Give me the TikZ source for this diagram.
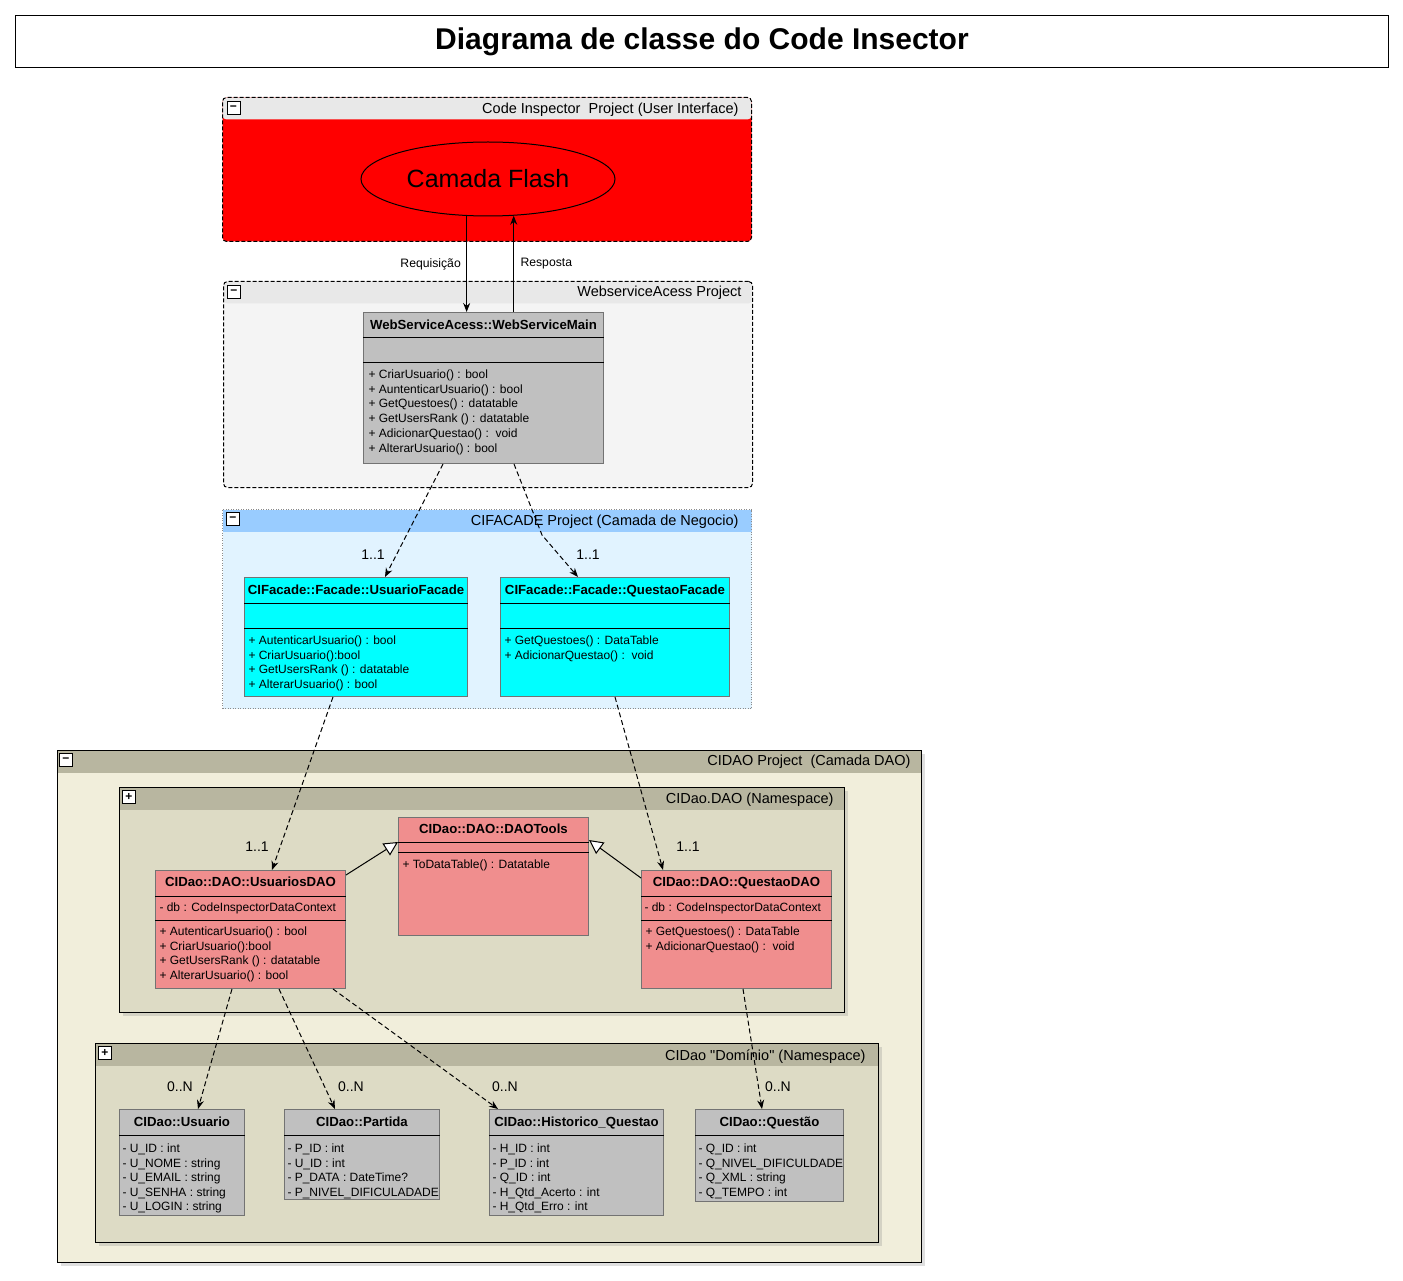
\documentclass[tikz,border=0pt]{standalone}
\usepackage{fontspec}
\setmainfont{Liberation Sans}
\newfontfamily\straightquotes{Liberation Sans}
\usetikzlibrary{arrows.meta}
\usetikzlibrary{calc, positioning, shapes.geometric, shadows}
\definecolor{uired}{RGB}{255,0,0}
\definecolor{pkggray}{RGB}{232,232,232}
\definecolor{pkgbody}{RGB}{244,244,244}
\definecolor{facadehdr}{RGB}{153,204,255}
\definecolor{facadebody}{RGB}{225,243,255}
\definecolor{daohdr}{RGB}{184,182,160}
\definecolor{daobody}{RGB}{241,238,219}
\definecolor{nsbody}{RGB}{221,219,197}
\definecolor{classgray}{RGB}{192,192,192}
\definecolor{classcyan}{RGB}{0,255,255}
\definecolor{classrose}{RGB}{240,142,142}

\tikzset{
	pkg/.style 2 args={draw, anchor=north west, inner sep=0pt, fill=#2,
		path picture={\fill[#1] (path picture bounding box.north west) rectangle ($(path picture bounding box.north east)+(0,22)$);}},
	pkgtitle/.style={anchor=base east, font=\fontsize{14.5}{17}\selectfont, inner sep=0pt},
	toggle/.style={draw, fill=white, minimum size=13pt, inner sep=0pt, font=\fontsize{12}{12}\selectfont\bfseries},
	umlclass/.style={draw=black!55, anchor=north west, inner sep=0pt},
	cname/.style={anchor=base, font=\fontsize{13.2}{15}\selectfont\bfseries, inner sep=0pt},
	member/.style={anchor=base west, font=\fontsize{12}{14}\selectfont, inner sep=0pt},
	mult/.style={font=\fontsize{14}{16}\selectfont, inner sep=0pt},
	dep/.style={draw, dash pattern=on 5pt off 3pt, -{Stealth[length=9pt,width=7pt]}},
	gen/.style={draw, -{Triangle[open,length=14pt,width=14pt,fill=white]}},
}

\begin{document}
\begin{tikzpicture}[x=1pt, y=-1pt, line width=1pt]

	\fill[white] (0,0) rectangle (1403,1281);
	\useasboundingbox (0,0) rectangle (1403,1281);

	% title
	\node[draw, anchor=north west, minimum width=1373pt, minimum height=52pt, font=\fontsize{30}{34}\selectfont\bfseries] (title) at (15,15) {Diagrama de classe do Code Insector};

	% packages
	\node[pkg={pkggray}{uired}, dash pattern=on 4pt off 2pt, rounded corners=4pt, minimum width=529pt, minimum height=144pt] (ui) at (222,97) {};
	\node[pkgtitle] (ui-t) at ($(ui.north east)+(-13,17)$) {Code Inspector\ \ Project (User Interface)};
	\node[toggle] (ui-b) at ($(ui.north west)+(11.5,11.5)$) {−};

	\node[pkg={pkggray}{pkgbody}, dash pattern=on 4pt off 2pt, rounded corners=4pt, minimum width=529pt, minimum height=206pt] (ws) at (223,281) {};
	\node[pkgtitle] (ws-t) at ($(ws.north east)+(-11,16)$) {WebserviceAcess Project};
	\node[toggle] (ws-b) at ($(ws.north west)+(11,11)$) {−};

	\node[pkg={facadehdr}{facadebody}, draw=black!45, dash pattern=on 1pt off 1.5pt, minimum width=529pt, minimum height=199pt] (fac) at (222,509) {};
	\node[pkgtitle] (fac-t) at ($(fac.north east)+(-13,16)$) {CIFACADE Project (Camada de Negocio)};
	\node[toggle] (fac-b) at ($(fac.north west)+(11,10)$) {−};

	\node[pkg={daohdr}{daobody}, drop shadow={shadow xshift=3pt, shadow yshift=-3pt, opacity=0.25}, minimum width=864pt, minimum height=512pt] (dao) at (57,750) {};
	\node[pkgtitle] (dao-t) at ($(dao.north east)+(-11,15)$) {CIDAO Project\ \ (Camada DAO)};
	\node[toggle] (dao-b) at ($(dao.north west)+(9,10)$) {−};

	\node[pkg={daohdr}{nsbody}, drop shadow={shadow xshift=3pt, shadow yshift=-3pt, opacity=0.25}, minimum width=725pt, minimum height=225pt] (ns) at (119,787) {};
	\node[pkgtitle] (ns-t) at ($(ns.north east)+(-11,16)$) {CIDao.DAO (Namespace)};
	\node[toggle] (ns-b) at ($(ns.north west)+(10,10)$) {+};

	\node[pkg={daohdr}{nsbody}, drop shadow={shadow xshift=3pt, shadow yshift=-3pt, opacity=0.25}, minimum width=783pt, minimum height=199pt] (dom) at (95,1043) {};
	\node[pkgtitle] (dom-t) at ($(dom.north east)+(-13,17)$) {\straightquotes CIDao "Domínio" (Namespace)};
	\node[toggle] (dom-b) at ($(dom.north west)+(10,10)$) {+};

	% user interface
	\node[ellipse, draw, minimum width=254pt, minimum height=74pt, inner sep=0pt, font=\fontsize{25}{29}\selectfont] (flash) at (488,179) {Camada Flash};

	% WebServiceMain
	\node[umlclass, fill=classgray, minimum width=240pt, minimum height=151pt] (wsm) at (363,312) {};
	\node[cname] (wsm-n) at ($(wsm.north)+(0,17.5)$) {WebServiceAcess::WebServiceMain};
	\draw ($(wsm.north west)+(0,26)$) -- ($(wsm.north east)+(0,26)$);
	\draw ($(wsm.north west)+(0,50)$) -- ($(wsm.north east)+(0,50)$);
	\foreach \m [count=\i from 0] in {+ CriarUsuario() : bool, + AuntenticarUsuario() : bool, + GetQuestoes() : datatable, + GetUsersRank () : datatable, + AdicionarQuestao() :\ \ void, + AlterarUsuario() : bool}
		\node[member] (wsm-m\i) at ($(wsm.north west)+(5,66.5+14.7*\i)$) {\m};

	% facades
	\node[umlclass, fill=classcyan, minimum width=223pt, minimum height=119pt] (uf) at (244,577) {};
	\node[cname] (uf-n) at ($(uf.north)+(0,17.5)$) {CIFacade::Facade::UsuarioFacade};
	\draw ($(uf.north west)+(0,26)$) -- ($(uf.north east)+(0,26)$);
	\draw ($(uf.north west)+(0,51)$) -- ($(uf.north east)+(0,51)$);
	\foreach \m [count=\i from 0] in {+ AutenticarUsuario() : bool, + CriarUsuario():bool, + GetUsersRank () : datatable, + AlterarUsuario() : bool}
		\node[member] (uf-m\i) at ($(uf.north west)+(4,67.5+14.7*\i)$) {\m};

	\node[umlclass, fill=classcyan, minimum width=229pt, minimum height=119pt] (qf) at (500,577) {};
	\node[cname] (qf-n) at ($(qf.north)+(0,17.5)$) {CIFacade::Facade::QuestaoFacade};
	\draw ($(qf.north west)+(0,26)$) -- ($(qf.north east)+(0,26)$);
	\draw ($(qf.north west)+(0,51)$) -- ($(qf.north east)+(0,51)$);
	\foreach \m [count=\i from 0] in {+ GetQuestoes() : DataTable, + AdicionarQuestao() :\ \ void}
		\node[member] (qf-m\i) at ($(qf.north west)+(4,67.5+14.7*\i)$) {\m};

	% DAO classes
	\node[umlclass, fill=classrose, minimum width=190pt, minimum height=118pt] (dt) at (398,817) {};
	\node[cname] (dt-n) at ($(dt.north)+(0,16.5)$) {CIDao::DAO::DAOTools};
	\draw ($(dt.north west)+(0,25)$) -- ($(dt.north east)+(0,25)$);
	\draw ($(dt.north west)+(0,35)$) -- ($(dt.north east)+(0,35)$);
	\node[member] (dt-m0) at ($(dt.north west)+(4,51.5)$) {+ ToDataTable() : Datatable};

	\node[umlclass, fill=classrose, minimum width=190pt, minimum height=118pt] (udao) at (155,870) {};
	\node[cname] (udao-n) at ($(udao.north)+(0,16.5)$) {CIDao::DAO::UsuariosDAO};
	\draw ($(udao.north west)+(0,26)$) -- ($(udao.north east)+(0,26)$);
	\draw ($(udao.north west)+(0,50)$) -- ($(udao.north east)+(0,50)$);
	\node[member] (udao-a0) at ($(udao.north west)+(4,41.5)$) {- db : CodeInspectorDataContext};
	\foreach \m [count=\i from 0] in {+ AutenticarUsuario() : bool, + CriarUsuario():bool, + GetUsersRank () : datatable, + AlterarUsuario() : bool}
		\node[member] (udao-m\i) at ($(udao.north west)+(4,65.5+14.7*\i)$) {\m};

	\node[umlclass, fill=classrose, minimum width=190pt, minimum height=118pt] (qdao) at (641,870) {};
	\node[cname] (qdao-n) at ($(qdao.north)+(0,16.5)$) {CIDao::DAO::QuestaoDAO};
	\draw ($(qdao.north west)+(0,26)$) -- ($(qdao.north east)+(0,26)$);
	\draw ($(qdao.north west)+(0,50)$) -- ($(qdao.north east)+(0,50)$);
	\node[member] (qdao-a0) at ($(qdao.north west)+(3,41.5)$) {- db : CodeInspectorDataContext};
	\foreach \m [count=\i from 0] in {+ GetQuestoes() : DataTable, + AdicionarQuestao() :\ \ void}
		\node[member] (qdao-m\i) at ($(qdao.north west)+(4,65.5+14.7*\i)$) {\m};

	% domain classes
	\node[umlclass, fill=classgray, minimum width=125pt, minimum height=106pt] (usu) at (119,1109) {};
	\node[cname] (usu-n) at ($(usu.north)+(0,17.5)$) {CIDao::Usuario};
	\draw ($(usu.north west)+(0,26)$) -- ($(usu.north east)+(0,26)$);
	\foreach \m [count=\i from 0] in {- U\_ID : int, - U\_NOME : string, - U\_EMAIL : string, - U\_SENHA : string, - U\_LOGIN : string}
		\node[member] (usu-a\i) at ($(usu.north west)+(3,43.5+14.6*\i)$) {\m};

	\node[umlclass, fill=classgray, minimum width=155pt, minimum height=90pt] (par) at (284,1109) {};
	\node[cname] (par-n) at ($(par.north)+(0,17.5)$) {CIDao::Partida};
	\draw ($(par.north west)+(0,26)$) -- ($(par.north east)+(0,26)$);
	\foreach \m [count=\i from 0] in {- P\_ID : int, - U\_ID : int, - P\_DATA : DateTime?, - P\_NIVEL\_DIFICULADADE}
		\node[member] (par-a\i) at ($(par.north west)+(3,43.5+14.6*\i)$) {\m};

	\node[umlclass, fill=classgray, minimum width=174pt, minimum height=106pt] (hist) at (489,1109) {};
	\node[cname] (hist-n) at ($(hist.north)+(0,17.5)$) {CIDao::Historico\_Questao};
	\draw ($(hist.north west)+(0,26)$) -- ($(hist.north east)+(0,26)$);
	\foreach \m [count=\i from 0] in {- H\_ID : int, - P\_ID : int, - Q\_ID : int, - H\_Qtd\_Acerto : int, - H\_Qtd\_Erro : int}
		\node[member] (hist-a\i) at ($(hist.north west)+(3,43.5+14.6*\i)$) {\m};

	\node[umlclass, fill=classgray, minimum width=148pt, minimum height=92pt] (que) at (695,1109) {};
	\node[cname] (que-n) at ($(que.north)+(0,17.5)$) {CIDao::Questão};
	\draw ($(que.north west)+(0,26)$) -- ($(que.north east)+(0,26)$);
	\foreach \m [count=\i from 0] in {- Q\_ID : int, - Q\_NIVEL\_DIFICULDADE, - Q\_XML : string, - Q\_TEMPO : int}
		\node[member] (que-a\i) at ($(que.north west)+(3,43.5+14.6*\i)$) {\m};

	% requests between flash and webservice
	\draw[-{Stealth[length=9pt,width=7pt]}] (flash.240) -- (flash.240 |- wsm.north) node[midway, left=2pt, font=\fontsize{12.2}{14}\selectfont] (req) {Requisição};
	\draw[-{Stealth[length=9pt,width=7pt]}] (flash.-55.4 |- wsm.north) -- (flash.-55.4) node[midway, right=3pt, font=\fontsize{12.2}{14}\selectfont] (resp) {Resposta};

	% dependencies
	\coordinate (bend) at (542,535);
	\draw[dep] ($(wsm.south west)+(80,0)$) -- ($(uf.north west)+(141,0)$);
	\draw[dep] ($(wsm.south west)+(151,0)$) -- (bend) -- ($(qf.north west)+(78,0)$);
	\draw[dep] ($(uf.south west)+(89,0)$) -- ($(udao.north west)+(117,0)$);
	\draw[dep] ($(qf.south west)+(115,0)$) -- ($(qdao.north west)+(22,0)$);
	\draw[dep] ($(udao.south west)+(77,0)$) -- ($(usu.north west)+(79,0)$);
	\draw[dep] ($(udao.south west)+(124,0)$) -- ($(par.north west)+(51,0)$);
	\draw[dep] ($(udao.south west)+(178,0)$) -- ($(hist.north west)+(9,0)$);
	\draw[dep] ($(qdao.south west)+(102,0)$) -- ($(que.north west)+(67,0)$);

	% generalizations
	\draw[gen] ($(udao.north east)+(0,5)$) -- ($(dt.north west)+(0,25)$);
	\draw[gen] ($(qdao.north west)+(0,8)$) -- ($(dt.north east)+(0,23)$);

	% multiplicities
	\node[mult] (m1) at (373,555) {1..1};
	\node[mult] (m2) at (588,555) {1..1};
	\node[mult] (m3) at (257,847) {1..1};
	\node[mult] (m4) at (688,847) {1..1};
	\node[mult] (m5) at (180,1087) {0..N};
	\node[mult] (m6) at (351,1087) {0..N};
	\node[mult] (m7) at (505,1087) {0..N};
	\node[mult] (m8) at (778,1087) {0..N};

\end{tikzpicture}
\end{document}
